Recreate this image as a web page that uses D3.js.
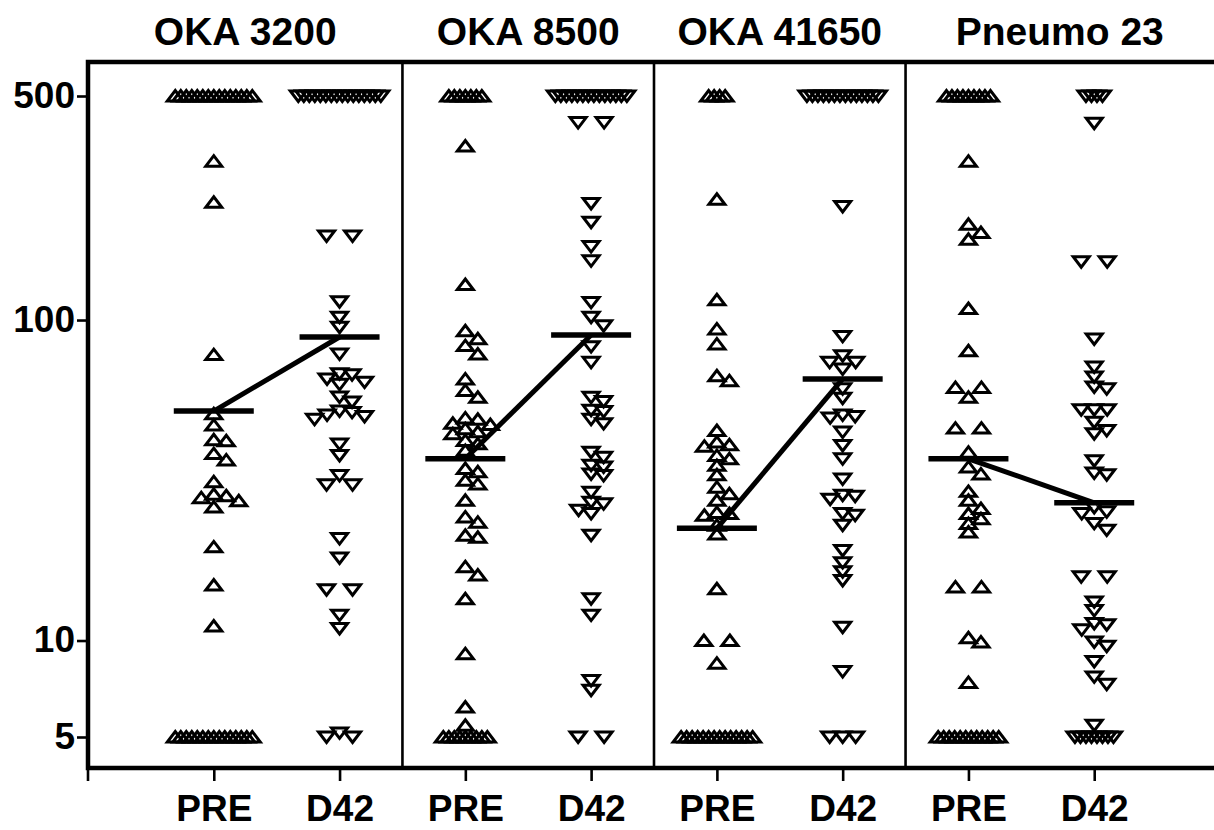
<!DOCTYPE html>
<html>
<head>
<meta charset="utf-8">
<script src="https://cdn.jsdelivr.net/npm/d3@7/dist/d3.min.js"></script>
<style>
body { margin: 0; background: #fff; }
text { font-family: "Liberation Sans", Arial, sans-serif; font-weight: bold; fill: #000; }
</style>
</head>
<body>
<script>
// panels and groups
var titles = ["OKA 3200", "OKA 8500", "OKA 41650", "Pneumo 23"];
var groups = ["PRE", "D42"];
var yTicks = [5, 10, 100, 500];

// titres (values between the 5 and 500 limits)
var oka3200Pre = [313, 233, 78, 51, 47, 42.3, 42, 38.3, 36.6, 31.3, 28.6, 28.3, 27.9, 27.3, 26.1, 19.6, 14.9, 11.1];
var oka3200D42 = [183, 183, 114, 102, 95, 78.3, 68, 64, 63, 65.5, 67.5, 57.5, 55.5, 52, 49, 50.5, 51.5, 50, 41, 37.8, 32.7, 30.6, 30.6, 20.8, 18.1, 14.4, 14.4, 12, 10.9, 5.15];
var oka8500Pre = [349, 129, 92.6, 87.4, 83.2, 78.3, 65.5, 60.3, 57.4, 49.5, 49.0, 47.6, 47.2, 45.8, 44.8, 44.2, 42.1, 41.1, 39.2, 34.4, 33.6, 31.6, 30.8, 27.4, 24.3, 23.4, 21.3, 21.0, 17.0, 16.0, 13.5, 9.1, 6.2, 5.44];
var oka8500D42 = [413, 413, 231, 202, 169.5, 153, 113.5, 102, 96, 82.6, 73.8, 57.4, 55.7, 52.3, 51.8, 49, 47.5, 38.7, 37.3, 35.2, 34.8, 33.1, 32.7, 29, 27, 26.7, 25.5, 24.9, 21.3, 13.5, 12, 7.5, 7.0];
var oka41650Pre = [238, 115.6, 93.8, 84.2, 67, 64.7, 45.2, 41.6, 40.8, 40.4, 37.8, 36.9, 35.2, 32.9, 30.1, 28.7, 27.4, 25.1, 24.9, 24.6, 22.9, 21.5, 14.5, 10, 10, 8.5];
var oka41650D42 = [226, 88.9, 77.4, 73.8, 73.8, 70.3, 61, 57, 50.5, 50, 49.5, 44.7, 40.6, 36.9, 31.9, 28.4, 28.2, 27.6, 24.9, 24.6, 22.9, 19.1, 17.5, 16.4, 15.4, 11.0, 8.0];
var pneumoPre = [313, 199, 187.5, 178.6, 108.6, 80.2, 61.6, 61.6, 57.4, 46, 46, 38.7, 34.8, 33.1, 29.2, 27.4, 25.8, 24.9, 24.0, 23.2, 21.8, 14.7, 14.7, 10.2, 9.9, 7.4];
var pneumoD42 = [411, 152, 152, 87.3, 71.3, 66.4, 61.8, 61, 52.5, 52.5, 52.5, 48, 45.2, 44.2, 36.4, 33.3, 32.9, 26, 25.2, 24.9, 23.2, 22.1, 15.8, 15.8, 13.2, 12.4, 11.3, 11.2, 10.8, 9.9, 9.6, 8.6, 7.7, 7.3, 5.44];

// number of sera at the upper (500) and lower (5) limits, per column
var countAt500 = [15, 16, 7, 14, 4, 14, 9, 4];
var countAt5 = [15, 2, 9, 2, 14, 3, 12, 8];
// horizontal bars (central value per column)
var centres = [52, 88.5, 36.9, 89.8, 22.4, 65.5, 36.9, 26.9];

var columns = [oka3200Pre, oka3200D42, oka8500Pre, oka8500D42, oka41650Pre, oka41650D42, pneumoPre, pneumoD42];

var W = 1214, H = 830;
var plotLeft = 88, plotRight = 1220, plotTop = 62, plotBottom = 768;

var svg = d3.select("body").append("svg").attr("width", W).attr("height", H);
svg.append("rect").attr("width", W).attr("height", H).attr("fill", "#fff");

var keys = [];
titles.forEach(function(t) { groups.forEach(function(g) { keys.push(t + "|" + g); }); });

var x = d3.scalePoint().domain(keys).range([plotLeft, plotRight]).padding(1);
var y = d3.scaleLog().domain([5, 500]).range([737, 96]);

// panel dividers
var dividers = titles.slice(1).map(function(t, i) {
	return (x(titles[i] + "|D42") + x(t + "|PRE")) / 2;
});
svg.selectAll(".divider").data(dividers).enter().append("line")
	.attr("class", "divider")
	.attr("x1", function(d) { return d; }).attr("x2", function(d) { return d; })
	.attr("y1", plotTop).attr("y2", plotBottom)
	.attr("stroke", "#000").attr("stroke-width", 2.6);

// spread equal / close values sideways like a column scatter
function swarm(vals) {
	var placed = [], singles = [];
	d3.group(vals, function(v) { return v; }).forEach(function(arr, v) {
		var n = arr.length;
		if (n === 1) { singles.push(v); return; }
		var step = n === 2 ? 26 : (n === 3 ? 13 : 5.5);
		arr.forEach(function(_, i) { placed.push({ v: v, dx: (i - (n - 1) / 2) * step }); });
	});
	singles.sort(d3.descending).forEach(function(v) {
		var yy = y(v), cands = [0, 12.5, -12.5, 25, -25, 37.5, -37.5], dx = 0;
		for (var k = 0; k < cands.length; k++) {
			dx = cands[k];
			var hit = placed.some(function(p) {
				return Math.abs(p.dx - dx) < 12 && Math.abs(y(p.v) - yy) < 8.5;
			});
			if (!hit) break;
		}
		placed.push({ v: v, dx: dx });
	});
	return placed;
}

var up = "M-8,5L8,5L0,-5.5Z";
var down = "M-8,-5L8,-5L0,5.5Z";

keys.forEach(function(key, i) {
	var vals = columns[i]
		.concat(d3.range(countAt500[i]).map(function() { return 500; }))
		.concat(d3.range(countAt5[i]).map(function() { return 5; }));
	var pts = swarm(vals);
	var isPre = key.split("|")[1] === "PRE";
	svg.append("g").selectAll("path").data(pts).enter().append("path")
		.attr("d", isPre ? up : down)
		.attr("transform", function(d) { return "translate(" + (x(key) + d.dx) + "," + y(d.v) + ")"; })
		.attr("fill", "none").attr("stroke", "#000").attr("stroke-width", 3);
});

// connectors between central values
titles.forEach(function(t, p) {
	svg.append("line")
		.attr("x1", x(t + "|PRE")).attr("y1", y(centres[2 * p]))
		.attr("x2", x(t + "|D42")).attr("y2", y(centres[2 * p + 1]))
		.attr("stroke", "#000").attr("stroke-width", 5);
});
svg.selectAll(".centre").data(keys).enter().append("line")
	.attr("class", "centre")
	.attr("x1", function(d) { return x(d) - 40; }).attr("x2", function(d) { return x(d) + 40; })
	.attr("y1", function(d, i) { return y(centres[i]); }).attr("y2", function(d, i) { return y(centres[i]); })
	.attr("stroke", "#000").attr("stroke-width", 5.5);

// frame
svg.append("path")
	.attr("d", "M" + W + "," + plotTop + "H" + plotLeft + "V" + plotBottom + "H" + W)
	.attr("fill", "none").attr("stroke", "#000").attr("stroke-width", 4.5);

// y axis
var yAxis = svg.append("g").attr("transform", "translate(" + plotLeft + ",0)")
	.call(d3.axisLeft(y).tickValues(yTicks).tickSize(11).tickPadding(2).tickFormat(d3.format("d")));
yAxis.select(".domain").remove();
yAxis.selectAll(".tick line").attr("stroke-width", 2.6);
yAxis.selectAll(".tick text").attr("font-size", 37).attr("dy", "0.3em")
	.style("font-family", "'Liberation Sans', Arial, sans-serif").style("font-weight", "bold");

// x axis
var xAxis = svg.append("g").attr("transform", "translate(0," + plotBottom + ")")
	.call(d3.axisBottom(x).tickSize(13).tickSizeOuter(0).tickPadding(14).tickFormat(function(d) { return d.split("|")[1]; }));
xAxis.select(".domain").remove();
xAxis.selectAll(".tick line").attr("stroke-width", 2.6);
xAxis.selectAll(".tick text").attr("font-size", 37)
	.style("font-family", "'Liberation Sans', Arial, sans-serif").style("font-weight", "bold");
xAxis.append("line").attr("x1", plotLeft).attr("x2", plotLeft).attr("y1", 0).attr("y2", 13)
	.attr("stroke", "#000").attr("stroke-width", 2.6);

// panel titles, centred over each panel
var edges = [plotLeft].concat(dividers, [W]);
svg.selectAll(".title").data(titles).enter().append("text")
	.attr("class", "title")
	.attr("x", function(t, i) { return (edges[i] + edges[i + 1]) / 2; })
	.attr("y", 45)
	.attr("text-anchor", "middle")
	.attr("font-size", 39)
	.text(function(t) { return t; });
</script>
</body>
</html>
